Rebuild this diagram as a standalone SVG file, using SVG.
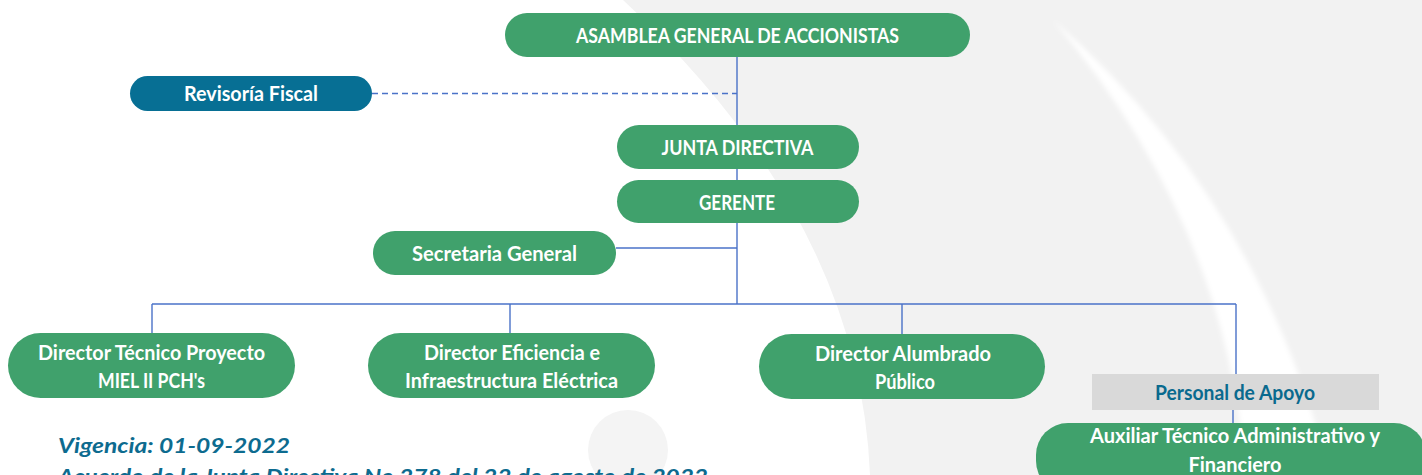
<svg xmlns="http://www.w3.org/2000/svg" width="1422" height="475" viewBox="0 0 1422 475">
<style>
.box{fill:#40a16c}
.t{font-family:"Lato","Liberation Sans",sans-serif;font-weight:bold;font-size:20px;fill:#ffffff;text-anchor:middle}
.c{stroke:#4a72c8;stroke-width:1.4;fill:none}
.note{font-family:"Lato","Liberation Sans",sans-serif;font-style:italic;font-weight:bold;font-size:20px;fill:#0d6b8f}
</style>
<defs>
<filter id="soft" x="-20%" y="-20%" width="140%" height="140%"><feGaussianBlur stdDeviation="2.5"/></filter>
</defs>
<rect width="1422" height="475" fill="#ffffff"/>
<g id="background">
<path d="M623,0 Q860,220 870,475 L1422,475 L1422,0 Z" fill="#f2f2f2"/>
<path d="M1053,20 Q1230,230 1245,475 L1330,475 Q1260,200 1053,20 Z" fill="#ffffff" filter="url(#soft)"/>
<circle cx="628" cy="450" r="40" fill="#f4f4f4"/>
</g>
<g id="connectors">
<line class="c" x1="737" y1="57" x2="737" y2="304"/>
<line class="c" x1="372" y1="93.5" x2="737" y2="93.5" stroke-dasharray="6 4"/>
<line class="c" x1="616" y1="248" x2="737" y2="248"/>
<line class="c" x1="152" y1="304" x2="1236" y2="304"/>
<line class="c" x1="152" y1="304" x2="152" y2="333"/>
<line class="c" x1="510" y1="304" x2="510" y2="333"/>
<line class="c" x1="902" y1="304" x2="902" y2="334"/>
<line class="c" x1="1236" y1="304" x2="1236" y2="374"/>
<line class="c" x1="1233" y1="410" x2="1233" y2="423"/>
</g>
<g id="asamblea">
<rect class="box" x="505" y="13" width="465" height="44" rx="22"/>
<text class="t" x="737.5" y="43" textLength="323" lengthAdjust="spacingAndGlyphs">ASAMBLEA GENERAL DE ACCIONISTAS</text>
</g>
<g id="revisoria">
<rect x="130" y="76" width="242" height="35" rx="17.5" fill="#076f94"/>
<text class="t" x="251" y="101" textLength="134" lengthAdjust="spacingAndGlyphs">Revisoría Fiscal</text>
</g>
<g id="junta">
<rect class="box" x="617" y="125" width="242" height="44" rx="22"/>
<text class="t" x="737.5" y="155" textLength="152" lengthAdjust="spacingAndGlyphs">JUNTA DIRECTIVA</text>
</g>
<g id="gerente">
<rect class="box" x="617" y="180" width="242" height="43" rx="21.5"/>
<text class="t" x="737" y="210" textLength="76" lengthAdjust="spacingAndGlyphs">GERENTE</text>
</g>
<g id="secretaria">
<rect class="box" x="373" y="231" width="243" height="44" rx="22"/>
<text class="t" x="494.5" y="261" textLength="165" lengthAdjust="spacingAndGlyphs">Secretaria General</text>
</g>
<g id="director-tecnico">
<rect class="box" x="8" y="333" width="287" height="65" rx="32.5"/>
<text class="t" x="151.5" y="360" textLength="227" lengthAdjust="spacingAndGlyphs">Director Técnico Proyecto</text>
<text class="t" x="151.5" y="388" textLength="107" lengthAdjust="spacingAndGlyphs">MIEL II PCH's</text>
</g>
<g id="director-eficiencia">
<rect class="box" x="368" y="333" width="287" height="65" rx="32.5"/>
<text class="t" x="512" y="360" textLength="176" lengthAdjust="spacingAndGlyphs">Director Eficiencia e</text>
<text class="t" x="511.5" y="388" textLength="213" lengthAdjust="spacingAndGlyphs">Infraestructura Eléctrica</text>
</g>
<g id="director-alumbrado">
<rect class="box" x="759" y="334" width="286" height="65" rx="32.5"/>
<text class="t" x="903" y="361" textLength="176" lengthAdjust="spacingAndGlyphs">Director Alumbrado</text>
<text class="t" x="905" y="389" textLength="60" lengthAdjust="spacingAndGlyphs">Público</text>
</g>
<g id="personal-apoyo">
<rect x="1092" y="374" width="287" height="36" fill="#d9d9d9"/>
<text class="t" x="1235" y="400" textLength="160" lengthAdjust="spacingAndGlyphs" style="fill:#0a6a8e">Personal de Apoyo</text>
</g>
<g id="auxiliar">
<rect class="box" x="1036" y="423" width="390" height="70" rx="32"/>
<text class="t" x="1235" y="443" textLength="290" lengthAdjust="spacingAndGlyphs">Auxiliar Técnico Administrativo y</text>
<text class="t" x="1235" y="472" textLength="93" lengthAdjust="spacingAndGlyphs">Financiero</text>
</g>
<g id="notes">
<text class="note" x="58" y="453" textLength="232" lengthAdjust="spacingAndGlyphs">Vigencia: 01-09-2022</text>
<text class="note" x="58" y="484" textLength="650" lengthAdjust="spacingAndGlyphs">Acuerdo de la Junta Directiva No 278 del 22 de agosto de 2022</text>
</g>
</svg>
